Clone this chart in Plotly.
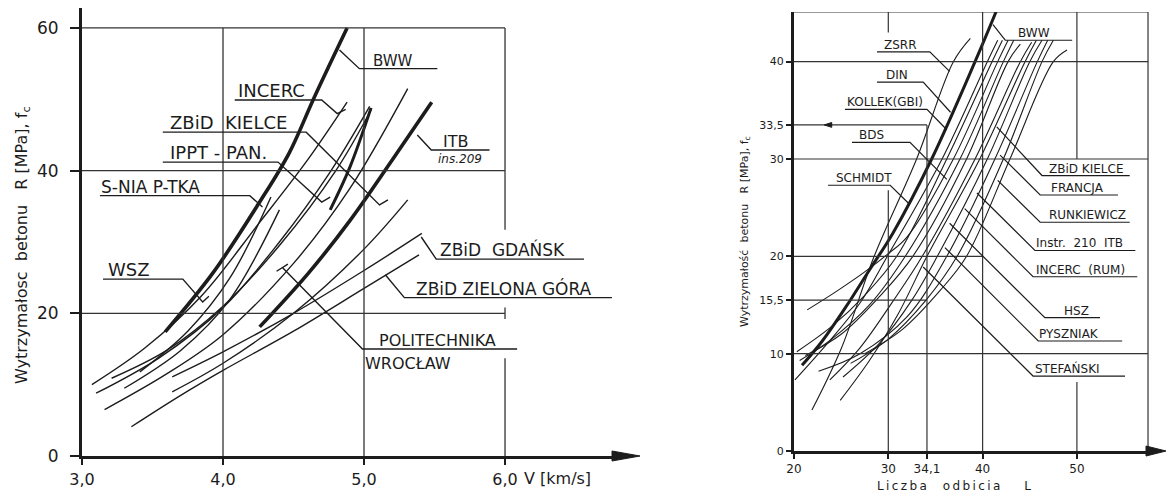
import plotly.graph_objects as go

INK = '#1c1c1c'
GRID = '#333333'
FONT = 'DejaVu Sans'

# ---------------- Left chart: R [MPa] vs V [km/s] ----------------
bww_v = [3.59, 3.93, 4.26, 4.47, 4.65, 4.88]
bww_r = [17.4, 25.7, 35.6, 42.5, 50.4, 60.0]
incerc_v = [3.07, 3.45, 3.85, 4.25, 4.60, 4.88]
incerc_r = [10.0, 15.2, 22.5, 32.5, 41.5, 49.6]
kielce_a_v = [3.10, 3.55, 4.00, 4.40, 4.75, 5.04]
kielce_a_r = [8.8, 13.8, 20.8, 30.0, 39.5, 49.0]
kielce_b_v = [3.21, 3.60, 4.00, 4.40, 4.80, 5.05]
kielce_b_r = [10.9, 14.8, 21.0, 29.5, 40.0, 48.5]
kielce_top_v = [4.76, 4.90, 5.05]
kielce_top_r = [34.5, 40.5, 48.8]
ippt_v = [3.16, 3.60, 4.00, 4.50, 4.90, 5.31]
ippt_r = [6.5, 11.5, 17.0, 27.0, 37.5, 51.5]
itb_v = [4.26, 4.60, 4.90, 5.20, 5.48]
itb_r = [18.1, 25.5, 33.0, 41.5, 49.6]
snia_a_v = [3.41, 3.75, 4.05, 4.34]
snia_a_r = [11.8, 17.5, 25.0, 36.3]
snia_b_v = [3.30, 3.70, 4.05, 4.40]
snia_b_r = [9.5, 14.8, 22.0, 34.5]
polit_v = [3.64, 4.00, 4.50, 5.00, 5.31]
polit_r = [9.0, 13.0, 20.0, 29.0, 35.9]
gdansk_v = [3.64, 4.00, 4.50, 5.00, 5.41]
gdansk_r = [11.1, 14.6, 20.0, 26.0, 31.2]
zgora_v = [3.35, 3.70, 4.00, 4.50, 5.00, 5.39]
zgora_r = [4.1, 8.5, 12.0, 17.5, 23.5, 28.2]

left_ticks_x = [3, 4, 5, 6]
left_ticktext_x = ['3,0', '4,0', '5,0', '6,0']
left_ticks_y = [0, 20, 40, 60]

# ---------------- Right chart: R [MPa] vs rebound number L ----------------
zsrr_l = [21.9, 25.0, 28.5, 33.0, 36.9, 38.7]
zsrr_r = [4.2, 10.5, 20.0, 30.0, 40.0, 42.4]
rbww_l = [20.85, 23.0, 25.5, 28.0, 30.5, 34.6, 39.2, 41.5]
rbww_r = [8.8, 11.3, 14.8, 18.6, 22.4, 30.0, 40.0, 45.3]
din_l = [20.1, 23.5, 27.0, 29.9, 35.7, 40.5, 41.6]
din_r = [7.3, 11.0, 15.2, 20.0, 30.0, 40.0, 42.2]
kollek_l = [20.3, 24.0, 27.5, 30.9, 36.2, 41.0, 42.1]
kollek_r = [10.2, 12.8, 16.0, 20.0, 30.0, 40.0, 42.2]
schmidt_l = [21.4, 24.5, 27.5, 29.9, 32.0, 36.9, 41.6, 42.7]
schmidt_r = [14.5, 16.4, 18.4, 20.2, 22.0, 30.0, 40.0, 42.2]
bds_l = [20.6, 24.0, 28.0, 31.8, 37.6, 42.2, 43.3]
bds_r = [9.3, 11.5, 15.0, 20.0, 30.0, 40.0, 42.2]
rkielce_l = [21.2, 25.0, 29.0, 32.6, 38.3, 42.7, 44.0]
rkielce_r = [9.8, 12.0, 15.8, 20.0, 30.0, 40.0, 41.8]
francja_l = [23.8, 27.0, 30.5, 33.6, 39.2, 44.0, 45.2]
francja_r = [7.3, 10.6, 15.4, 20.0, 30.0, 40.0, 42.0]
runk_l = [24.9, 28.0, 31.0, 34.1, 39.7, 44.5, 45.7]
runk_r = [5.2, 9.3, 14.0, 20.0, 30.0, 40.0, 42.2]
instr_l = [25.2, 29.0, 32.5, 35.2, 40.5, 45.0, 46.3]
instr_r = [7.6, 11.0, 15.5, 20.0, 30.0, 40.0, 42.2]
rincerc_l = [22.6, 27.0, 32.0, 36.2, 41.3, 45.8, 46.9]
rincerc_r = [8.2, 10.0, 13.8, 20.0, 30.0, 40.0, 42.2]
hsz_l = [26.0, 30.0, 34.0, 37.3, 42.2, 46.3, 47.5]
hsz_r = [9.0, 11.5, 15.5, 20.0, 30.0, 40.0, 42.2]
pysz_l = [27.5, 31.5, 35.5, 38.3, 42.9, 47.5, 48.95]
pysz_r = [10.0, 12.5, 16.5, 20.0, 30.0, 40.0, 41.2]

right_ticks_x = [20, 30, 34.1, 40, 50]
right_ticktext_x = ['20', '30', '34,1', '40', '50']
right_ticks_y = [0, 10, 15.5, 20, 30, 33.5, 40]
right_ticktext_y = ['0', '10', '15,5', '20', '30', '33,5', '40']

W, H = 1166, 493
fig = go.Figure()

left_thin = [(incerc_v, incerc_r), (kielce_a_v, kielce_a_r), (kielce_b_v, kielce_b_r),
             (ippt_v, ippt_r), (snia_a_v, snia_a_r), (snia_b_v, snia_b_r),
             (polit_v, polit_r), (gdansk_v, gdansk_r), (zgora_v, zgora_r)]
left_thick = [(bww_v, bww_r, 3.6), (itb_v, itb_r, 3.6), (kielce_top_v, kielce_top_r, 3.0)]
for xs, ys in left_thin:
    fig.add_trace(go.Scatter(x=xs, y=ys, mode='lines', xaxis='x', yaxis='y',
                             line=dict(color=INK, width=1.4, shape='spline', smoothing=1.0),
                             hoverinfo='skip', showlegend=False))
for xs, ys, w in left_thick:
    fig.add_trace(go.Scatter(x=xs, y=ys, mode='lines', xaxis='x', yaxis='y',
                             line=dict(color=INK, width=w, shape='spline', smoothing=1.0),
                             hoverinfo='skip', showlegend=False))

right_thin = [(zsrr_l, zsrr_r), (din_l, din_r), (kollek_l, kollek_r), (schmidt_l, schmidt_r),
              (bds_l, bds_r), (rkielce_l, rkielce_r), (francja_l, francja_r), (runk_l, runk_r),
              (instr_l, instr_r), (rincerc_l, rincerc_r), (hsz_l, hsz_r), (pysz_l, pysz_r)]
for xs, ys in right_thin:
    fig.add_trace(go.Scatter(x=xs, y=ys, mode='lines', xaxis='x2', yaxis='y2',
                             line=dict(color=INK, width=1.1, shape='spline', smoothing=1.0),
                             hoverinfo='skip', showlegend=False))
fig.add_trace(go.Scatter(x=rbww_l, y=rbww_r, mode='lines', xaxis='x2', yaxis='y2',
                         line=dict(color=INK, width=3.0, shape='spline', smoothing=1.0),
                         hoverinfo='skip', showlegend=False))


def poly(pts, xr, yr, w=1.3, color=INK, closed=False):
    path = 'M ' + ' L '.join(f'{x},{y}' for x, y in pts) + (' Z' if closed else '')
    kw = dict(fillcolor=color) if closed else {}
    fig.add_shape(type='path', path=path, xref=xr, yref=yr,
                  line=dict(color=color, width=w), layer='above', **kw)


# ---- left grid
for pts in [[(4, 0), (4, 60)], [(5, 0), (5, 60)], [(6, 60), (6, 31.7)], [(6, 13.7), (6, 0)],
            [(6, 19.2), (6, 20.8)],
            [(3, 20), (6, 20)], [(3, 40), (6, 40)], [(3, 60), (6, 60)]]:
    poly(pts, 'x', 'y', 1.3, GRID)

# ---- right grid
for pts in [[(20, 45.1), (57.54, 45.1)], [(57.54, 45.1), (57.54, 0)],
            [(20, 40), (57.54, 40)], [(20, 30), (57.54, 30)], [(20, 10), (57.54, 10)],
            [(20, 20), (40, 20)], [(20, 15.5), (34.1, 15.5)], [(20, 33.5), (34.1, 33.5)],
            [(30, 0), (30, 26.8)], [(30, 43.0), (30, 45.1)], [(34.1, 0), (34.1, 33.5)],
            [(40, 0), (40, 45.1)], [(50, 45.1), (50, 30)], [(50, 0), (50, 7.1)]]:
    poly(pts, 'x2', 'y2', 1.2, GRID)

# small arrow mark on the 33,5 line
poly([(23.2, 33.5), (24.0, 33.75), (24.0, 33.25)], 'x2', 'y2', 1, INK, closed=True)

# axis arrowheads (paper coordinates)
poly([(640 / W, 1 - 456 / H), (612 / W, 1 - 451 / H), (612 / W, 1 - 461 / H)], 'paper', 'paper', 1, INK, True)
poly([(1166 / W, 1 - 451 / H), (1146 / W, 1 - 446 / H), (1146 / W, 1 - 456 / H)], 'paper', 'paper', 1, INK, True)

# ---- left labels: leader lines with underline
left_leaders = [
    [(4.826, 56.9), (4.967, 54.3), (5.52, 54.3)],
    [(4.083, 49.9), (4.70, 49.9), (4.81, 48.0), (4.87, 48.6)],
    [(3.573, 45.4), (4.59, 45.4), (5.11, 35.2), (5.17, 35.9)],
    [(3.573, 41.2), (4.39, 41.2), (4.70, 35.6), (4.76, 36.3)],
    [(3.127, 36.5), (4.19, 36.5), (4.28, 34.9)],
    [(3.149, 24.8), (3.715, 24.8), (3.856, 21.6), (3.90, 22.4)],
    [(5.378, 45.0), (5.477, 42.9), (5.89, 42.9)],
    [(5.406, 30.7), (5.512, 27.6), (6.56, 27.6)],
    [(5.151, 25.4), (5.286, 22.2), (6.758, 22.2)],
    [(4.38, 25.9), (4.46, 26.9)],
    [(4.423, 26.4), (4.989, 15.0), (6.086, 15.0)],
]
for pts in left_leaders:
    poly(pts, 'x', 'y', 1.4)

left_labels = [
    ('BWW', 5.06, 54.3, 15, 'bottom'),
    ('INCERC', 4.10, 49.9, 18, 'bottom'),
    ('ZBiD  KIELCE', 3.62, 45.4, 18, 'bottom'),
    ('IPPT - PAN.', 3.62, 41.2, 18, 'bottom'),
    ('S-NIA P-TKA', 3.13, 36.5, 17, 'bottom'),
    ('WSZ', 3.18, 24.8, 18, 'bottom'),
    ('ITB', 5.55, 42.9, 16, 'bottom'),
    ('<i>ins.209</i>', 5.52, 42.7, 12, 'top'),
    ('ZBiD  GDAŃSK', 5.53, 27.6, 17, 'bottom'),
    ('ZBiD ZIELONA GÓRA', 5.36, 22.2, 17, 'bottom'),
    ('POLITECHNIKA', 5.10, 15.0, 16, 'bottom'),
    ('WROCŁAW', 5.00, 14.4, 16, 'top'),
]
for txt, x, y, s, ya in left_labels:
    fig.add_annotation(text=txt, x=x, y=y, xref='x', yref='y', xanchor='left', yanchor=ya,
                       showarrow=False, font=dict(family=FONT, size=s, color=INK),
                       yshift=-2 if ya == 'bottom' else 0, borderpad=0)

# ---- right labels
right_leaders = [
    [(41.1, 43.8), (42.4, 42.2), (49.5, 42.2)],
    [(28.8, 41.0), (34.4, 41.0), (36.5, 39.0)],
    [(28.8, 37.9), (33.7, 37.9), (36.6, 34.8)],
    [(25.4, 35.1), (34.1, 35.1), (36.2, 33.0)],
    [(26.15, 31.7), (32.3, 31.7), (36.2, 27.9)],
    [(23.6, 27.3), (30.2, 27.3), (32.2, 25.4)],
    [(55.6, 28.3), (46.3, 28.3), (41.5, 33.3)],
    [(54.35, 26.3), (46.1, 26.3), (41.85, 30.4)],
    [(55.6, 23.5), (46.1, 23.5), (41.6, 27.8)],
    [(56.2, 20.6), (45.55, 20.6), (39.4, 26.5)],
    [(56.4, 17.9), (45.35, 17.9), (38.1, 24.9)],
    [(52.45, 13.7), (46.6, 13.7), (36.5, 23.4)],
    [(54.8, 11.3), (45.9, 11.3), (36.0, 20.9)],
    [(55.1, 7.7), (45.35, 7.7), (33.7, 18.9)],
]
for pts in right_leaders:
    poly(pts, 'x2', 'y2', 1.2)

right_labels = [
    ('BWW', 43.6, 42.2), ('ZSRR', 29.4, 41.0), ('DIN', 29.7, 37.9), ('KOLLEK(GBI)', 25.5, 35.1),
    ('BDS', 26.8, 31.7), ('SCHMIDT', 24.4, 27.3), ('ZBiD KIELCE', 46.9, 28.3),
    ('FRANCJA', 47.1, 26.3), ('RUNKIEWICZ', 46.9, 23.5), ('Instr.  210  ITB', 45.6, 20.6),
    ('INCERC  (RUM)', 45.6, 17.9), ('HSZ', 48.5, 13.7), ('PYSZNIAK', 45.9, 11.3),
    ('STEFAŃSKI', 45.5, 7.7),
]
for txt, x, y in right_labels:
    fig.add_annotation(text=txt, x=x, y=y, xref='x2', yref='y2', xanchor='left', yanchor='bottom',
                       showarrow=False, font=dict(family=FONT, size=12, color=INK),
                       yshift=-1, borderpad=0)

# axis titles
fig.add_annotation(text='Wytrzymałosc  betonu   R [MPa], f<sub>c</sub>', x=22 / W, y=1 - 245 / H,
                   xref='paper', yref='paper', xanchor='center', yanchor='middle', textangle=-90,
                   showarrow=False, font=dict(family=FONT, size=16, color=INK))
fig.add_annotation(text='V [km/s]', x=6.12, y=1 - 478 / H, xref='x', yref='paper', xanchor='left',
                   yanchor='middle', showarrow=False, font=dict(family=FONT, size=16, color=INK))
fig.add_annotation(text='Wytrzymałość  betonu   R [MPa], f<sub>c</sub>', x=745 / W, y=1 - 232 / H,
                   xref='paper', yref='paper', xanchor='center', yanchor='middle', textangle=-90,
                   showarrow=False, font=dict(family=FONT, size=11, color=INK))
fig.add_annotation(text='L\u2009i\u2009c\u2009z\u2009b\u2009a\u2003 o\u2009d\u2009b\u2009i\u2009c\u2009i\u2009a\u2003\u2003L',
                   x=954 / W, y=1 - 486 / H, xref='paper', yref='paper', xanchor='center',
                   yanchor='middle', showarrow=False, font=dict(family=FONT, size=12, color=INK))

axis_common = dict(showgrid=False, zeroline=False, showline=True, linewidth=3, linecolor=INK,
                   ticks='outside', tickwidth=2, tickcolor=INK, fixedrange=True, automargin=False)

fig.update_layout(
    width=W, height=H, autosize=False,
    margin=dict(l=0, r=0, t=0, b=0, pad=0),
    paper_bgcolor='white', plot_bgcolor='rgba(0,0,0,0)',
    showlegend=False,
    xaxis=dict(domain=[82 / W, 615 / W], range=[3, 6.78], anchor='y',
               tickvals=left_ticks_x, ticktext=left_ticktext_x, ticklen=6, ticklabelstandoff=1,
               tickfont=dict(family=FONT, size=16, color=INK), **axis_common),
    yaxis=dict(domain=[1 - 456 / H, 1 - 8 / H], range=[0, 62.8], anchor='x',
               tickvals=left_ticks_y, ticklen=9, ticklabelstandoff=8,
               tickfont=dict(family=FONT, size=17, color=INK), **axis_common),
    xaxis2=dict(domain=[794 / W, 1150 / W], range=[20, 57.75], anchor='y2',
                tickvals=right_ticks_x, ticktext=right_ticktext_x, ticklen=5, ticklabelstandoff=0,
                tickfont=dict(family=FONT, size=12, color=INK), **axis_common),
    yaxis2=dict(domain=[1 - 451 / H, 1 - 12 / H], range=[0, 45.1], anchor='x2',
                tickvals=right_ticks_y, ticktext=right_ticktext_y, ticklen=5,
                tickfont=dict(family=FONT, size=11, color=INK), **axis_common),
)

fig.write_html('out.html')
